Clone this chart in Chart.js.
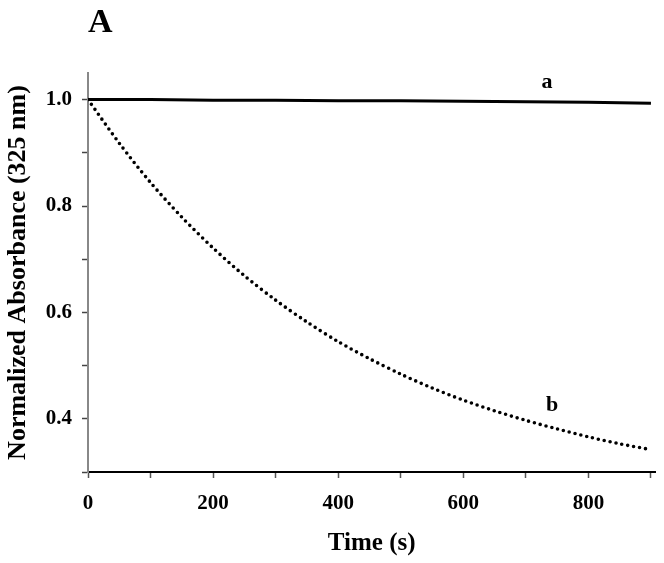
<!DOCTYPE html>
<html>
<head>
<meta charset="utf-8">
<script src="https://cdn.jsdelivr.net/npm/chart.js@4/dist/chart.umd.min.js"></script>
<style>
html,body{margin:0;padding:0;background:#fff;}
#wrap{width:664px;height:563px;}
</style>
</head>
<body>
<div id="wrap"><canvas id="chart" width="664" height="563"></canvas></div>
<script>
// curve a: stable sample
const timeA=[0,100,200,300,400,500,600,700,800,900];
const absA=[1.000,1.000,0.999,0.999,0.998,0.998,0.997,0.996,0.995,0.993];
// curve b: decaying sample
const timeB=[0,50,100,150,200,250,300,350,400,450,500,550,600,650,700,750,800,850,900];
const absB=[1.000,0.918,0.844,0.779,0.721,0.669,0.623,0.582,0.545,0.513,0.484,0.458,0.435,0.415,0.397,0.381,0.366,0.353,0.342];

const xTicks=[0,100,200,300,400,500,600,700,800,900];
const xTickLabels=[0,200,400,600,800];
const yTicks=[0.3,0.4,0.5,0.6,0.7,0.8,0.9,1.0];
const yTickLabels=['0.4','0.6','0.8','1.0'];

const panelLabel='A';
const curveLabels=[{text:'a',t:734,v:1.033},{text:'b',t:742,v:0.426}];

const serif='"Liberation Serif","Times New Roman",serif';

const labelPlugin={
  id:'labels',
  afterDraw(chart){
    const {ctx,chartArea,scales:{x,y}}=chart;
    ctx.save();
    ctx.fillStyle='#000';
    ctx.font='bold 22px '+serif;
    ctx.textAlign='center';ctx.textBaseline='middle';
    curveLabels.forEach(l=>ctx.fillText(l.text,x.getPixelForValue(l.t),y.getPixelForValue(l.v)));
    ctx.font='bold 34px '+serif;
    ctx.textAlign='left';ctx.textBaseline='alphabetic';
    ctx.fillText(panelLabel,chartArea.left,chartArea.top-41);
    ctx.restore();
  }
};

new Chart(document.getElementById('chart').getContext('2d'),{
  type:'line',
  data:{datasets:[
    {label:'a',data:timeA.map((t,i)=>({x:t,y:absA[i]})),borderColor:'#000',borderWidth:3,pointRadius:0,tension:0,fill:false},
    {label:'b',data:timeB.map((t,i)=>({x:t,y:absB[i]})),borderColor:'#000',borderWidth:3.6,borderDash:[0,6],borderCapStyle:'round',pointRadius:0,tension:0.3,fill:false}
  ]},
  options:{
    responsive:false,animation:false,devicePixelRatio:1,
    layout:{padding:{top:73,right:7,left:0,bottom:0}},
    plugins:{legend:{display:false},tooltip:{enabled:false}},
    scales:{
      x:{type:'linear',min:0,max:907,
        afterBuildTicks:s=>{s.ticks=xTicks.map(v=>({value:v}));},
        afterFit:s=>{s.height=91;},
        ticks:{autoSkip:false,maxRotation:0,padding:13,color:'#000',font:{family:serif,size:21,weight:'bold'},
          callback:v=>xTickLabels.includes(v)?String(v):''},
        grid:{drawOnChartArea:false,drawTicks:true,tickLength:6,tickColor:'#555',tickWidth:1.5},
        border:{display:true,color:'#000',width:2},
        title:{display:true,text:'Time (s)',color:'#000',font:{family:serif,size:25,weight:'bold'},padding:{top:0,bottom:4}}
      },
      y:{type:'linear',min:0.3,max:1.05,
        afterBuildTicks:s=>{s.ticks=yTicks.map(v=>({value:v}));},
        afterFit:s=>{s.width=88;},
        ticks:{autoSkip:false,padding:10,color:'#000',font:{family:serif,size:21,weight:'bold'},
          callback:v=>yTickLabels.includes(v.toFixed(1))?v.toFixed(1):''},
        grid:{drawOnChartArea:false,drawTicks:true,tickLength:6,tickColor:'#444',tickWidth:1.5},
        border:{display:true,color:'#888',width:2},
        title:{display:true,text:'Normalized Absorbance (325 nm)',color:'#000',font:{family:serif,size:26,weight:'bold'},padding:{top:3,bottom:0}}
      }
    }
  },
  plugins:[labelPlugin]
});
</script>
</body>
</html>
